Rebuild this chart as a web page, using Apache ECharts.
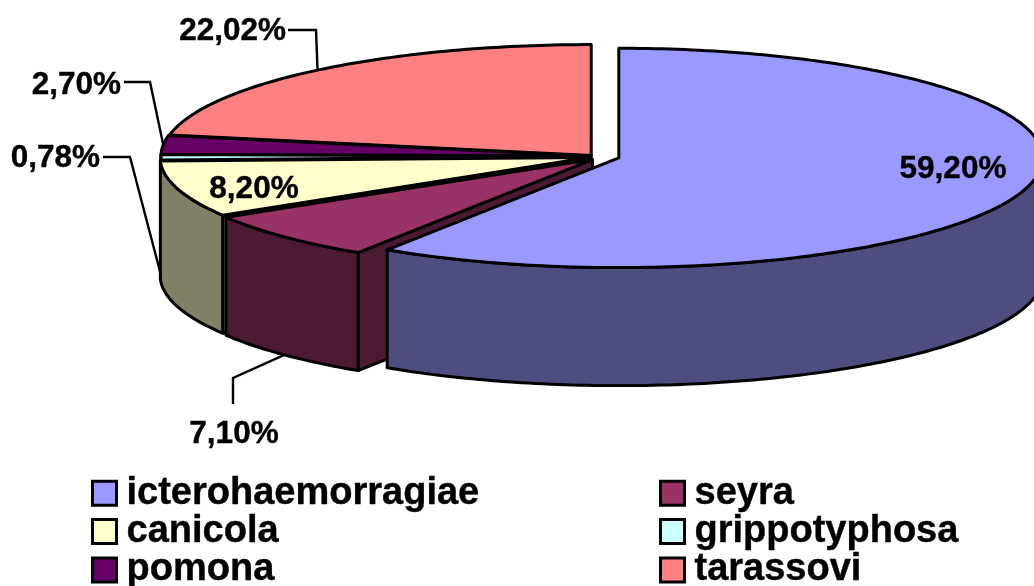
<!DOCTYPE html>
<html><head><meta charset="utf-8">
<style>html,body{margin:0;padding:0;background:#fff}#c{width:1034px;height:586px}</style>
<script src="https://cdn.jsdelivr.net/npm/echarts@6/dist/echarts.min.js"></script>
</head><body><div id="c"></div>
<script>
// data
var categories = ['icterohaemorragiae','seyra','canicola','grippotyphosa','pomona','tarassovi'];
var shares = [59.20, 7.10, 8.20, 0.78, 2.70, 22.02];
var topColors = ['#9999ff','#993366','#ffffcc','#ccffff','#660066','#ff8080'];
var sideColors = ['#4d4d80','#4d1a33','#808066','#668080','#330033','#804040'];

// layout of the tilted pie (pixels)
var pie = {cx:591, cy:155, rx:429, ry:111, depth:118};
var explode = [29, 3.5, 3.5, 2.5, 3, 2];
var radiusScale = [0.988, 1, 1, 1, 1, 1];
var nudge = [[0,0.8],[4,4],[1.5,2.2],[1.5,1.5],[2,1.2],[1.5,1]];
var labelLayout = [
  {x:953, y:169, align:'center'},
  {x:234, y:434, align:'center', elbow:[233,378], end:[233,404]},
  {x:254, y:189, align:'center'},
  {x:100, y:158, align:'right', elbow:[130,157], end:[103,157]},
  {x:121, y:85,  align:'right', elbow:[150,82], end:[124,82]},
  {x:286, y:31,  align:'right', elbow:[316,30], end:[288,30]}
];

var RAD = Math.PI/180;
var total = shares.reduce(function(a,b){return a+b;},0);
var starts = [], acc = 0;
shares.forEach(function(v){ starts.push(acc); acc += v/total*360; });

function geom(i){
  var a = starts[i], b = a + shares[i]/total*360, m = (a+b)/2;
  var s = radiusScale[i];
  var c = {x: pie.cx + nudge[i][0] + explode[i]*Math.sin(m*RAD),
           y: pie.cy + nudge[i][1] - explode[i]*Math.cos(m*RAD)*pie.ry/pie.rx};
  return {a:a,b:b,m:m,c:c,
    pt:function(t,dz){ return [c.x + pie.rx*s*Math.sin(t*RAD),
                               c.y - pie.ry*s*Math.cos(t*RAD) + (dz||0)]; }};
}
function arc(g,a,b,dz){
  var out=[], n=Math.max(2,Math.ceil((b-a)));
  for(var k=0;k<=n;k++) out.push(g.pt(a+(b-a)*k/n,dz));
  return out;
}
function poly(points,fill,w){
  return {type:'polygon',shape:{points:points},
    style:{fill:fill,stroke:'#000',lineWidth:w||3,lineJoin:'round'}};
}
function renderSlice(i){
  var g = geom(i), kids=[], d=pie.depth, c=[g.c.x,g.c.y], cd=[g.c.x,g.c.y+d];
  var side = sideColors[i];
  if(g.a>180 && g.a<360){ var p=g.pt(g.a), q=g.pt(g.a,d); kids.push(poly([c,p,q,cd],side)); }
  if(g.b>0 && g.b<180){ var p2=g.pt(g.b), q2=g.pt(g.b,d); kids.push(poly([c,p2,q2,cd],side)); }
  var fa=Math.max(g.a,90), fb=Math.min(g.b,270);
  if(fb>fa){
    kids.push(poly(arc(g,fa,fb,0).concat(arc(g,fa,fb,d).reverse()),side));
  }
  kids.push(poly([c].concat(arc(g,g.a,g.b,0)),topColors[i]));
  return kids;
}
function renderLabel(i){
  var g=geom(i), L=labelLayout[i], kids=[];
  if(L.elbow){
    var front = g.m>90 && g.m<=270;
    var rim = g.pt(g.m, front? pie.depth:0);
    kids.push({type:'polyline',shape:{points:[rim,L.elbow,L.end]},
      style:{fill:null,stroke:'#000',lineWidth:2.4}});
  }
  kids.push({type:'text',style:{x:L.x,y:L.y,align:L.align,verticalAlign:'middle',
    text:shares[i].toFixed(2).replace('.',',')+'%',
    font:'bold 31.5px "Liberation Sans", Arial, sans-serif',fill:'#000',
    stroke:'#000',lineWidth:0.4}});
  return kids;
}

var order = [5,4,3,2,1,0];
var series = order.map(function(i){
  return {type:'custom',name:categories[i],coordinateSystem:'none',silent:true,animation:false,
    itemStyle:{color:topColors[i]},
    data:[shares[i]],
    renderItem:function(){ return {type:'group',children:renderSlice(i)}; }};
});
series.push({type:'custom',name:'labels',coordinateSystem:'none',silent:true,animation:false,z:5,
  data:shares,
  renderItem:function(p){ return {type:'group',children:renderLabel(p.dataIndex)}; }});

function legend(names,left){
  return {data:names,left:left,top:474,width:360,height:160,orient:'vertical',icon:'rect',itemWidth:24,itemHeight:24,itemGap:0,
    selectedMode:false,padding:0,
    itemStyle:{borderColor:'#000',borderWidth:3},
    textStyle:{fontFamily:'"Liberation Sans", Arial, sans-serif',fontWeight:'bold',fontSize:38,
      lineHeight:33,color:'#000',padding:[4,0,0,5],textBorderColor:'#000',textBorderWidth:0.4}};
}
var chart = echarts.init(document.getElementById('c'),null,{renderer:'canvas'});
chart.setOption({animation:false,backgroundColor:'#fff',
  legend:[legend([categories[0],categories[2],categories[4]],91),
          legend([categories[1],categories[3],categories[5]],659)],
  series:series});
</script></body></html>
